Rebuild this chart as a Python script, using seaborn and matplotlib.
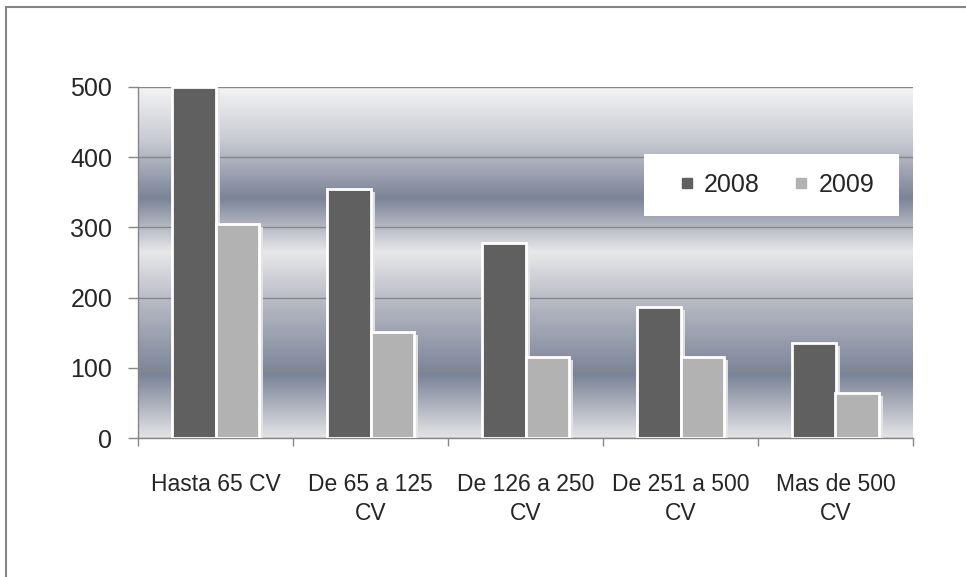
import numpy as np
import pandas as pd
import matplotlib
matplotlib.use("Agg")
import matplotlib.pyplot as plt
import matplotlib.patheffects as pe
from matplotlib.colors import LinearSegmentedColormap
from matplotlib.lines import Line2D
from matplotlib.patches import Rectangle
import seaborn as sns

# --------------------------------------------------------------------------------
# Data
categories = ["Hasta 65 CV", "De 65 a 125\nCV", "De 126 a 250\nCV",
              "De 251 a 500\nCV", "Mas de 500\nCV"]
years = ["2008", "2009"]
values_2008 = [500, 355, 278, 187, 135]
values_2009 = [305, 151, 115, 115, 64]
y_ticks = [0, 100, 200, 300, 400, 500]

df = pd.DataFrame({
    "categoria": categories * 2,
    "anio": [years[0]] * len(categories) + [years[1]] * len(categories),
    "valor": values_2008 + values_2009,
})

colors = {"2008": "#606060", "2009": "#b2b2b2"}

sns.set_style("white")
plt.rcParams["font.family"] = ["Liberation Sans", "DejaVu Sans"]

fig = plt.figure(figsize=(9.66, 5.77), dpi=100)
ax = fig.add_axes([138 / 966, 1 - 438 / 577, 775 / 966, 351 / 577])

# --------------------------------------------------------------------------------
# Metallic striped background of the plot area
stops = [(0.0, "#e4e4e6"), (0.18, "#7b8397"), (0.39, "#b8bac4"),
         (0.53, "#e8e8ea"), (0.684, "#7b8397"), (0.85, "#c8cad2"),
         (1.0, "#f4f4f4")]
bg_cmap = LinearSegmentedColormap.from_list("metal", stops)
grad = np.linspace(0, 1, 512).reshape(-1, 1)
ax.imshow(grad, cmap=bg_cmap, origin="lower", aspect="auto",
          extent=[0, 1, 0, 1], transform=ax.transAxes, zorder=0)

# --------------------------------------------------------------------------------
# Bars
sns.barplot(data=df, x="categoria", y="valor", hue="anio", palette=colors,
            width=0.56, gap=0, edgecolor="white", linewidth=2,
            saturation=1, legend=False, ax=ax, zorder=3)

for bar in ax.patches:
    bar.set_path_effects([
        pe.SimplePatchShadow(offset=(3, -2), shadow_rgbFace="#e6e6e6", alpha=0.9),
        pe.Normal(),
    ])

ax.set_xlim(-0.5, len(categories) - 0.5)
ax.set_ylim(0, 500)
ax.set_yticks(y_ticks)
ax.yaxis.grid(True, color="#868686", linewidth=1.0, zorder=1)
ax.set_axisbelow(True)

# category labels centered, tick marks on the boundaries
ax.set_xticks(range(len(categories)))
ax.set_xticklabels(categories, fontsize=16.5, linespacing=1.35)
ax.set_xticks(np.arange(-0.5, len(categories)), minor=True)
ax.tick_params(axis="x", which="major", length=0, pad=25)
ax.tick_params(axis="x", which="minor", length=6, width=1.0,
               color="#868686", direction="out")
ax.tick_params(axis="y", length=7, width=1.0, color="#868686",
               pad=11.5, labelsize=18, direction="out")
ax.tick_params(bottom=True, left=True, which="both")

ax.set_xlabel("")
ax.set_ylabel("")
for side in ["top", "right"]:
    ax.spines[side].set_visible(False)
for side in ["left", "bottom"]:
    ax.spines[side].set_color("#868686")
    ax.spines[side].set_linewidth(1.0)

# --------------------------------------------------------------------------------
# Legend in a white box
ax.add_patch(Rectangle((0.653, 0.632), 0.329, 0.177, transform=ax.transAxes,
                       facecolor="white", edgecolor="none", zorder=5))
handles = [Line2D([], [], marker="s", linestyle="none", markersize=6.5,
                  markerfacecolor=colors[y], markeredgecolor=colors[y])
           for y in years]
leg = ax.legend(handles, years, loc="center",
                bbox_to_anchor=(0.826, 0.632 + 0.177 / 2),
                ncol=2, frameon=False, fontsize=18, handlelength=0.4,
                handletextpad=0.5, columnspacing=1.45,
                borderpad=0, borderaxespad=0)
leg.set_zorder(6)

# Outer chart border (left and top)
fig.add_artist(Line2D([6 / 966, 6 / 966], [0, 1 - 7 / 577], color="#868686",
                      linewidth=1.5, transform=fig.transFigure))
fig.add_artist(Line2D([6 / 966, 1], [1 - 7 / 577, 1 - 7 / 577], color="#868686",
                      linewidth=1.5, transform=fig.transFigure))

fig.savefig("out.png", dpi=100)
